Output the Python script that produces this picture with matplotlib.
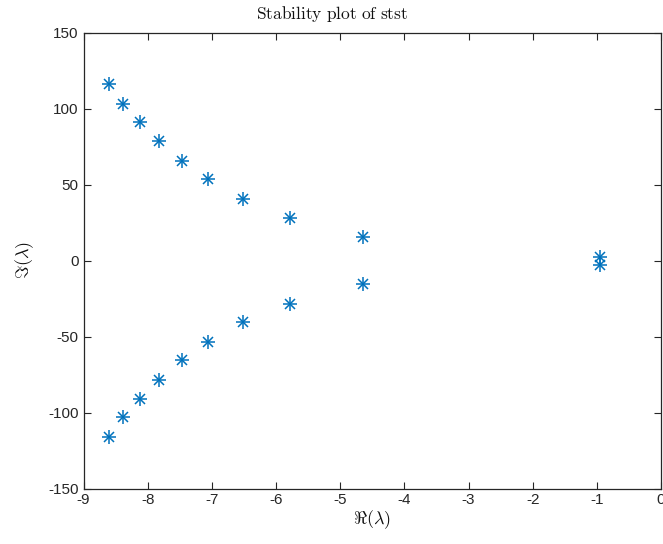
import matplotlib
matplotlib.use("Agg")
import matplotlib.pyplot as plt

# eigenvalues (upper half, mirrored below)
re_upper = [-8.61, -8.39, -8.12, -7.83, -7.47, -7.06, -6.52, -5.79, -4.64, -0.955]
im_upper = [116.1, 103.0, 90.9, 78.6, 65.5, 53.6, 40.4, 28.3, 15.3, 2.6]

re_vals = re_upper + re_upper
im_vals = im_upper + [-v for v in im_upper]

x_ticks = list(range(-9, 1))
y_ticks = [-150, -100, -50, 0, 50, 100, 150]

plt.rcParams["axes.unicode_minus"] = False
plt.rcParams["mathtext.fontset"] = "cm"
plt.rcParams["font.family"] = ["Liberation Sans", "DejaVu Sans"]

fig = plt.figure(figsize=(6.63, 5.44), dpi=100)
ax = fig.add_axes([0.126, 0.102, 0.871, 0.838])

blue = "#0072BD"
# matlab style asterisk = plus + cross
ax.plot(re_vals, im_vals, linestyle="none", marker="+", markersize=10,
        markeredgewidth=1.1, color=blue)
ax.plot(re_vals, im_vals, linestyle="none", marker="x", markersize=7,
        markeredgewidth=1.1, color=blue)

ax.set_xlim(-9, 0)
ax.set_ylim(-150, 150)
ax.set_xticks(x_ticks)
ax.set_yticks(y_ticks)

edge = "#262626"
for spine in ax.spines.values():
    spine.set_color(edge)
    spine.set_linewidth(0.9)
ax.tick_params(direction="in", length=5, width=0.8, color=edge,
               labelcolor=edge, labelsize=11, top=True, right=True)

# title sits left of the axes centre in the original
ax.set_title(r"$\mathrm{Stability\ plot\ of\ stst}$", fontsize=12.5,
             color="#111111", x=0.43, pad=10)
ax.set_xlabel(r"$\Re(\lambda)$", fontsize=13, color="#111111", labelpad=1)
ax.set_ylabel(r"$\Im(\lambda)$", fontsize=13, color="#111111", labelpad=9)

fig.savefig("out.png", dpi=100)
plt.close(fig)
